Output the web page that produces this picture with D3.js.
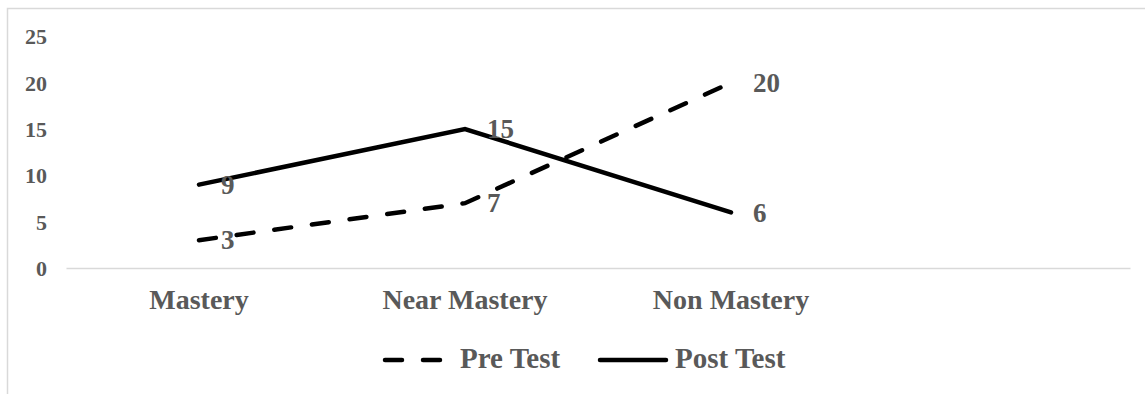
<!DOCTYPE html>
<html>
<head>
<meta charset="utf-8">
<script src="https://cdn.jsdelivr.net/npm/d3@7/dist/d3.min.js"></script>
<style>
  html, body { margin: 0; padding: 0; background: #ffffff; }
  svg { display: block; }
  text { font-family: "Liberation Serif", "DejaVu Serif", serif; font-weight: bold; fill: #595959; }
</style>
</head>
<body>
<svg id="chart" width="1145" height="394"></svg>
<script>
// Mastery levels, with a trailing empty slot on the category axis
const categories = ["Mastery", "Near Mastery", "Non Mastery"];
const axisSlots = [...categories, ""];
const preTest = [3, 7, 20];
const postTest = [9, 15, 6];
const yTicks = [0, 5, 10, 15, 20, 25];
const seriesNames = ["Pre Test", "Post Test"];

const W = 1145, H = 394;
const svg = d3.select("#chart");

// chart frame
svg.append("rect")
  .attr("x", 7.5).attr("y", 8.5)
  .attr("width", W + 20).attr("height", H + 20)
  .attr("fill", "none").attr("stroke", "#d9d9d9").attr("stroke-width", 1.5);

const x = d3.scaleBand().domain(axisSlots).range([66, 1130]);
const y = d3.scaleLinear().domain([0, 25]).range([268, 36.5]);

// value axis labels (no axis line, no gridlines)
const yAxis = svg.append("g")
  .attr("transform", "translate(47,0)")
  .call(d3.axisLeft(y).tickValues(yTicks).tickSize(0).tickPadding(0));
yAxis.select(".domain").remove();
yAxis.selectAll("text")
  .attr("font-size", 22)
  .attr("fill", "#595959")
  .attr("dy", "0.34em")
  .style("font-family", "'Liberation Serif', serif")
  .style("font-weight", "bold");

// category axis
const xAxis = svg.append("g")
  .attr("transform", `translate(0,${y(0)})`)
  .call(d3.axisBottom(x).tickSize(0).tickPadding(0));
xAxis.select(".domain")
  .attr("stroke", "#d9d9d9").attr("stroke-width", 1.5);
xAxis.selectAll("text")
  .attr("font-size", 28)
  .attr("fill", "#595959")
  .attr("y", 41).attr("dy", 0)
  .style("font-family", "'Liberation Serif', serif")
  .style("font-weight", "bold");

const cx = d => x(d) + x.bandwidth() / 2;

const line = d3.line()
  .x(d => cx(d.cat))
  .y(d => y(d.v));

const series = [
  { name: seriesNames[0], values: preTest, dash: "17,21" },
  { name: seriesNames[1], values: postTest, dash: null }
];

series.forEach(s => {
  const pts = categories.map((c, i) => ({ cat: c, v: s.values[i] }));
  svg.append("path")
    .datum(pts)
    .attr("d", line)
    .attr("fill", "none")
    .attr("stroke", "#000")
    .attr("stroke-width", 4.5)
    .attr("stroke-linecap", "round")
    .attr("stroke-linejoin", "miter")
    .attr("stroke-dasharray", s.dash);
});

// value labels to the right of each point
series.forEach(s => {
  svg.append("g").selectAll("text")
    .data(categories.map((c, i) => ({ cat: c, v: s.values[i] })))
    .join("text")
    .attr("x", d => cx(d.cat) + 22)
    .attr("y", d => y(d.v))
    .attr("dy", "0.34em")
    .attr("font-size", 27)
    .text(d => d.v);
});

// legend
const legend = [
  { name: seriesNames[0], x1: 385, x2: 442, tx: 460, dash: "17,21" },
  { name: seriesNames[1], x1: 600, x2: 666, tx: 675, dash: null }
];
const ly = 360;
legend.forEach(l => {
  svg.append("line")
    .attr("x1", l.x1).attr("x2", l.x2)
    .attr("y1", ly).attr("y2", ly)
    .attr("stroke", "#000").attr("stroke-width", 4.5)
    .attr("stroke-linecap", "round")
    .attr("stroke-dasharray", l.dash);
  svg.append("text")
    .attr("x", l.tx).attr("y", 368)
    .attr("font-size", 29)
    .text(l.name);
});
</script>
</body>
</html>
